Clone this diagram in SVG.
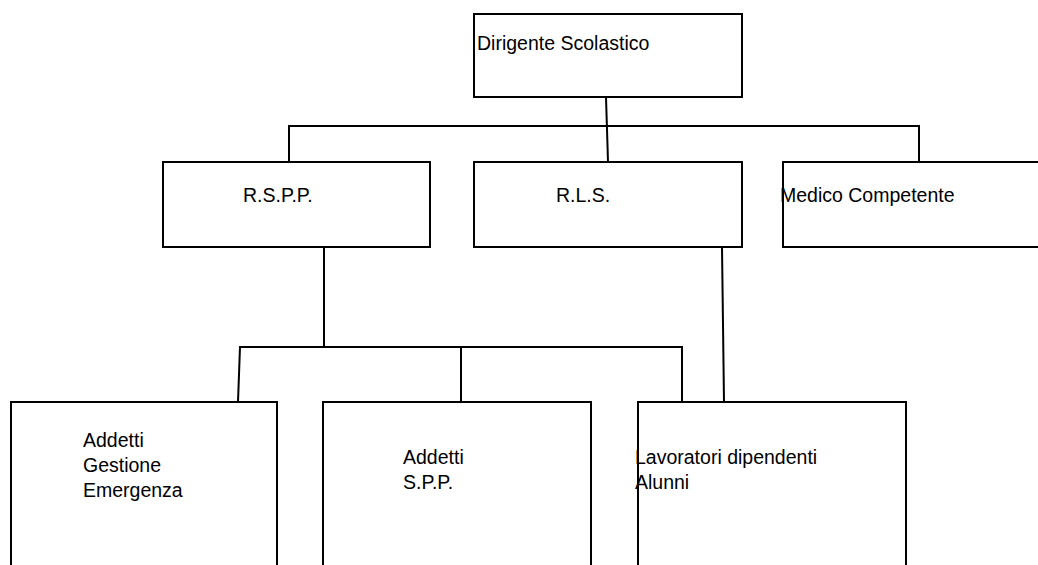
<svg xmlns="http://www.w3.org/2000/svg" width="1038" height="565" viewBox="0 0 1038 565">
<style>
.box{fill:#fff;stroke:#000;stroke-width:2}
.ln{fill:none;stroke:#000;stroke-width:2}
text{font-family:"Liberation Sans",Arial,sans-serif;font-size:19.5px;fill:#000}
</style>
<rect width="1038" height="565" fill="#fff"/>
<g id="connectors">
<line class="ln" x1="606" y1="97" x2="608" y2="162"/>
<polyline class="ln" points="289,162 289,126 919,126 919,162"/>
<line class="ln" x1="324" y1="247" x2="324" y2="347"/>
<polyline class="ln" points="238,402 240,347 682,347 682,402"/>
<line class="ln" x1="461" y1="347" x2="461" y2="402"/>
<line class="ln" x1="722" y1="247" x2="724" y2="402"/>
</g>
<g id="dirigente">
<rect class="box" x="474" y="14" width="268" height="83"/>
<text x="477" y="50">Dirigente Scolastico</text>
</g>
<g id="rspp">
<rect class="box" x="163" y="162" width="267" height="85"/>
<text x="243" y="202">R.S.P.P.</text>
</g>
<g id="rls">
<rect class="box" x="474" y="162" width="268" height="85"/>
<text x="556" y="202">R.L.S.</text>
</g>
<g id="medico">
<rect class="box" x="783" y="162" width="270" height="85"/>
<text x="780" y="202">Medico Competente</text>
</g>
<g id="addetti-emergenza">
<rect class="box" x="11" y="402" width="266" height="180"/>
<text x="83" y="447">Addetti</text>
<text x="83" y="472">Gestione</text>
<text x="83" y="497">Emergenza</text>
</g>
<g id="addetti-spp">
<rect class="box" x="323" y="402" width="268" height="180"/>
<text x="403" y="464">Addetti</text>
<text x="403" y="489">S.P.P.</text>
</g>
<g id="lavoratori">
<rect class="box" x="638" y="402" width="268" height="180"/>
<text x="635" y="464">Lavoratori dipendenti</text>
<text x="635" y="489">Alunni</text>
</g>
</svg>
